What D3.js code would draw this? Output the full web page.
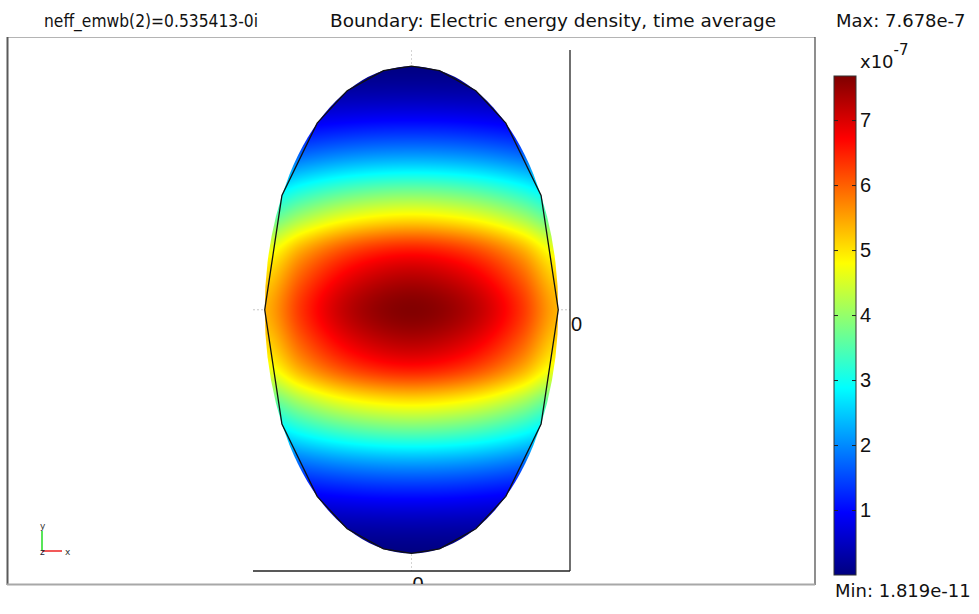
<html>

<head>
  <meta charset="utf8">
  <title>Boundary: Electric energy density</title>
  <style>
  * {
    margin: 0;
    padding: 0;
  }

  body {
    background: #fff;
  }

  svg {
    display: block;
    font-family: "DejaVu Sans", sans-serif;
  }

  .bar-axis text,
  .plot-axis text {
    font-size: 20px;
    fill: #111;
  }

  .bar-axis line {
    stroke: #222;
  }

  .bar-axis path,
  .plot-axis path {
    display: none;
  }
  </style>
</head>

<body>
  <script src="https://cdn.jsdelivr.net/npm/d3@7"></script>
  <script>

  var solutionLabel = 'neff_emwb(2)=0.535413-0i'
  var plotLabel = 'Boundary: Electric energy density, time average'
  var maxLabel = 'Max: 7.678e-7'
  var minLabel = 'Min: 1.819e-11'

  // colour range, in units of 1e-7
  var rangeMin = 0.0001819
  var rangeMax = 7.678
  var barTicks = [1, 2, 3, 4, 5, 6, 7]
  var plotTicks = [0]

  // ellipse semi axes and the corners of the drawn boundary (degrees)
  var semiAxes = [1, 1.66]
  var outlineAngles = [0, 28, 50, 64, 79, 90, 101, 116, 130, 152, 180, 208, 230, 244, 259, 270, 281, 296, 310, 332]

  // sample points, as fractions of the semi axes (u across, v up)
  var uSamples = [-1, -0.75, -0.5, -0.25, 0, 0.25, 0.5, 0.75, 1]
  var vSamples = [1, 0.875, 0.75, 0.625, 0.5, 0.375, 0.25, 0.125, 0, -0.125, -0.25, -0.375, -0.5, -0.625, -0.75, -0.875, -1]

  // energy density, x1e-7, one row per vSample
  var energy = [
    [0.01, 0.02, 0.02, 0.02, 0.02, 0.02, 0.02, 0.02, 0.01],
    [0.28, 0.33, 0.37, 0.39, 0.40, 0.39, 0.37, 0.33, 0.28],
    [0.81, 0.95, 1.06, 1.13, 1.15, 1.13, 1.06, 0.95, 0.81],
    [1.54, 1.83, 2.04, 2.16, 2.20, 2.16, 2.04, 1.83, 1.54],
    [2.52, 2.99, 3.33, 3.53, 3.60, 3.53, 3.33, 2.99, 2.52],
    [3.50, 4.15, 4.63, 4.90, 5.00, 4.90, 4.63, 4.15, 3.50],
    [4.55, 5.40, 6.01, 6.37, 6.50, 6.37, 6.01, 5.40, 4.55],
    [5.11, 6.06, 6.75, 7.15, 7.30, 7.15, 6.75, 6.06, 5.11],
    [5.36, 6.35, 7.08, 7.50, 7.65, 7.50, 7.08, 6.35, 5.36],
    [5.11, 6.06, 6.75, 7.15, 7.30, 7.15, 6.75, 6.06, 5.11],
    [4.55, 5.40, 6.01, 6.37, 6.50, 6.37, 6.01, 5.40, 4.55],
    [3.50, 4.15, 4.63, 4.90, 5.00, 4.90, 4.63, 4.15, 3.50],
    [2.52, 2.99, 3.33, 3.53, 3.60, 3.53, 3.33, 2.99, 2.52],
    [1.54, 1.83, 2.04, 2.16, 2.20, 2.16, 2.04, 1.83, 1.54],
    [0.81, 0.95, 1.06, 1.13, 1.15, 1.13, 1.06, 0.95, 0.81],
    [0.28, 0.33, 0.37, 0.39, 0.40, 0.39, 0.37, 0.33, 0.28],
    [0.01, 0.02, 0.02, 0.02, 0.02, 0.02, 0.02, 0.02, 0.01]
  ]

  // jet
  var jetStops = [0, 0.125, 0.375, 0.625, 0.875, 1]
  var jetColors = ['#00007f', '#0000ff', '#00ffff', '#ffff00', '#ff0000', '#7f0000']

  var width = 979, height = 614

  var svg = d3.select('body')
    .append('svg')
    .attr('viewBox', `0 0 ${width} ${height}`)
    .attr('width', width)
    .attr('height', height)

  var defs = svg.append('defs')

  // equal aspect: same px per unit on both axes
  var x = d3.scaleLinear().domain([-1.08, 1.08]).range([253, 570])
  var y = d3.scaleLinear().domain([-1.78, 1.77]).range([571, 50])

  var color = d3.scaleLinear()
    .domain(jetStops.map(s => s * rangeMax))
    .range(jetColors)
    .clamp(true)

  // frame round the plot area
  defs.append('clipPath').attr('id', 'frame-clip')
    .append('rect').attr('x', 8).attr('y', 37).attr('width', 807).attr('height', 547)

  var frame = svg.append('g')
  frame.append('line').attr('x1', 7).attr('x2', 815).attr('y1', 37.5).attr('y2', 37.5)
    .attr('stroke', '#b4b4b4').attr('stroke-width', 1)
  frame.append('line').attr('x1', 7.5).attr('x2', 7.5).attr('y1', 37).attr('y2', 585)
    .attr('stroke', '#5a5a5a').attr('stroke-width', 2)
  frame.append('line').attr('x1', 815).attr('x2', 815).attr('y1', 37).attr('y2', 585)
    .attr('stroke', '#444').attr('stroke-width', 1.2)
  frame.append('line').attr('x1', 7).attr('x2', 815).attr('y1', 584.5).attr('y2', 584.5)
    .attr('stroke', '#a8a8a8').attr('stroke-width', 2)

  var plot = svg.append('g').attr('clip-path', 'url(#frame-clip)')

  // faint lines through the origin
  plot.append('line')
    .attr('x1', x(-1.08)).attr('x2', x(1.08)).attr('y1', y(0)).attr('y2', y(0))
    .attr('stroke', '#c8c8c8').attr('stroke-dasharray', '2,2')
  plot.append('line')
    .attr('x1', x(0)).attr('x2', x(0)).attr('y1', y(1.77)).attr('y2', y(-1.78))
    .attr('stroke', '#d4d4d4').attr('stroke-dasharray', '2,2')

  // catmull-rom through the samples so the peak is kept
  function spline(values, t) {
    var n = values.length - 1
    var s = Math.max(0, Math.min(n, t * n))
    var i = Math.min(n - 1, Math.floor(s)), f = s - i
    var p0 = values[Math.max(0, i - 1)], p1 = values[i], p2 = values[i + 1], p3 = values[Math.min(n, i + 2)]
    return 0.5 * (2 * p1 + (p2 - p0) * f + (2 * p0 - 5 * p1 + 4 * p2 - p3) * f * f + (3 * p1 - p0 - 3 * p2 + p3) * f * f * f)
  }

  var tU = d3.scaleLinear().domain([uSamples[0], uSamples[uSamples.length - 1]]).range([0, 1])
  var tV = d3.scaleLinear().domain([vSamples[0], vSamples[vSamples.length - 1]]).range([0, 1])

  // paint the field into a canvas, then put it in the svg clipped to the ellipse
  var a = semiAxes[0], b = semiAxes[1]
  var x0 = Math.floor(x(-a)) - 2, x1 = Math.ceil(x(a)) + 2
  var y0 = Math.floor(y(b)) - 2, y1 = Math.ceil(y(-b)) + 2
  var cw = x1 - x0, ch = y1 - y0
  var canvas = document.createElement('canvas')
  canvas.width = cw
  canvas.height = ch
  var ctx = canvas.getContext('2d')
  var img = ctx.createImageData(cw, ch)

  for (var i = 0; i < cw; i++) {
    var u = x.invert(x0 + i + 0.5) / a
    var col = energy.map(row => spline(row, tU(u)))
    for (var j = 0; j < ch; j++) {
      var v = y.invert(y0 + j + 0.5) / b
      var c = d3.rgb(color(spline(col, tV(v))))
      var k = (j * cw + i) * 4
      img.data[k] = c.r
      img.data[k + 1] = c.g
      img.data[k + 2] = c.b
      img.data[k + 3] = 255
    }
  }
  ctx.putImageData(img, 0, 0)

  defs.append('clipPath').attr('id', 'ellipse-clip')
    .append('ellipse')
    .attr('cx', x(0)).attr('cy', y(0))
    .attr('rx', x(a) - x(0)).attr('ry', y(0) - y(b))

  plot.append('image')
    .attr('href', canvas.toDataURL())
    .attr('x', x0).attr('y', y0)
    .attr('width', cw).attr('height', ch)
    .attr('clip-path', 'url(#ellipse-clip)')

  // boundary is drawn as straight segments
  var outline = d3.line().curve(d3.curveLinearClosed)
  plot.append('path')
    .attr('d', outline(outlineAngles.map(t => {
      var r = t * Math.PI / 180
      return [x(a * Math.cos(r)), y(b * Math.sin(r))]
    })))
    .attr('fill', 'none')
    .attr('stroke', '#111')
    .attr('stroke-width', 1.3)

  // axis lines
  plot.append('line')
    .attr('x1', x(1.08)).attr('x2', x(1.08)).attr('y1', y(1.77)).attr('y2', y(-1.78))
    .attr('stroke', '#222').attr('stroke-width', 1.3)
  plot.append('line')
    .attr('x1', x(-1.08)).attr('x2', x(1.08)).attr('y1', y(-1.78)).attr('y2', y(-1.78))
    .attr('stroke', '#222').attr('stroke-width', 1.3)

  plot.append('g')
    .attr('class', 'plot-axis')
    .attr('transform', `translate(${x(1.08)},0)`)
    .call(d3.axisRight(y).tickValues(plotTicks).tickSize(0).tickPadding(1).tickFormat(d3.format('d')))
    .selectAll('text').attr('dy', '1.05em')

  plot.append('g')
    .attr('class', 'plot-axis')
    .attr('transform', `translate(0,${y(-1.78)})`)
    .call(d3.axisBottom(x).tickValues(plotTicks).tickSize(0).tickPadding(6).tickFormat(d3.format('d')))
    .selectAll('text').attr('dx', '0.3em')

  // colour bar
  var barX = 834, barW = 22
  var yBar = d3.scaleLinear().domain([0, rangeMax]).range([575, 76])

  var grad = defs.append('linearGradient')
    .attr('id', 'jet')
    .attr('x1', 0).attr('y1', 1).attr('x2', 0).attr('y2', 0)
  grad.selectAll('stop')
    .data(jetStops)
    .enter()
    .append('stop')
    .attr('offset', d => d)
    .attr('stop-color', (d, i) => jetColors[i])

  svg.append('rect')
    .attr('x', barX).attr('y', yBar(rangeMax))
    .attr('width', barW).attr('height', yBar(0) - yBar(rangeMax))
    .attr('fill', 'url(#jet)')
    .attr('stroke', '#333')
    .attr('stroke-width', 1)

  svg.append('g')
    .attr('class', 'bar-axis')
    .attr('transform', `translate(${barX + barW},0)`)
    .call(d3.axisRight(yBar).tickValues(barTicks).tickSize(-4).tickPadding(4).tickFormat(d3.format('d')))

  svg.append('g')
    .attr('class', 'bar-axis')
    .attr('transform', `translate(${barX},0)`)
    .call(d3.axisLeft(yBar).tickValues(barTicks).tickSize(-4).tickFormat(''))

  var exp = svg.append('text')
    .attr('x', 860).attr('y', 68)
    .attr('font-size', 18).attr('fill', '#111')
  exp.append('tspan').text('x10')
  exp.append('tspan').attr('font-size', 15).attr('dy', -13).text('-7')

  // titles
  svg.append('text')
    .attr('x', 44).attr('y', 27)
    .attr('font-size', 18).attr('fill', '#111')
    .attr('textLength', 214).attr('lengthAdjust', 'spacingAndGlyphs')
    .text(solutionLabel)
  svg.append('text')
    .attr('x', 330).attr('y', 27)
    .attr('font-size', 18).attr('fill', '#111')
    .attr('textLength', 446).attr('lengthAdjust', 'spacingAndGlyphs')
    .text(plotLabel)
  svg.append('text')
    .attr('x', 836).attr('y', 27)
    .attr('font-size', 18).attr('fill', '#111')
    .text(maxLabel)
  svg.append('text')
    .attr('x', 835).attr('y', 597)
    .attr('font-size', 18).attr('fill', '#111')
    .text(minLabel)

  // little xyz triad in the corner
  var triad = svg.append('g').attr('transform', 'translate(42,551)')
  triad.append('line').attr('x1', 0).attr('y1', 0).attr('x2', 0).attr('y2', -20)
    .attr('stroke', '#22dd22').attr('stroke-width', 1.5)
  triad.append('line').attr('x1', 0).attr('y1', 0).attr('x2', 20).attr('y2', 0)
    .attr('stroke', '#ee2222').attr('stroke-width', 1.5)
  triad.selectAll('text')
    .data([['y', -2, -22], ['x', 23, 4], ['z', -2, 4]])
    .enter()
    .append('text')
    .attr('x', d => d[1]).attr('y', d => d[2])
    .attr('font-size', 9)
    .attr('fill', (d, i) => i == 2 ? '#223' : '#333')
    .text(d => d[0])

  </script>
</body>

</html>
